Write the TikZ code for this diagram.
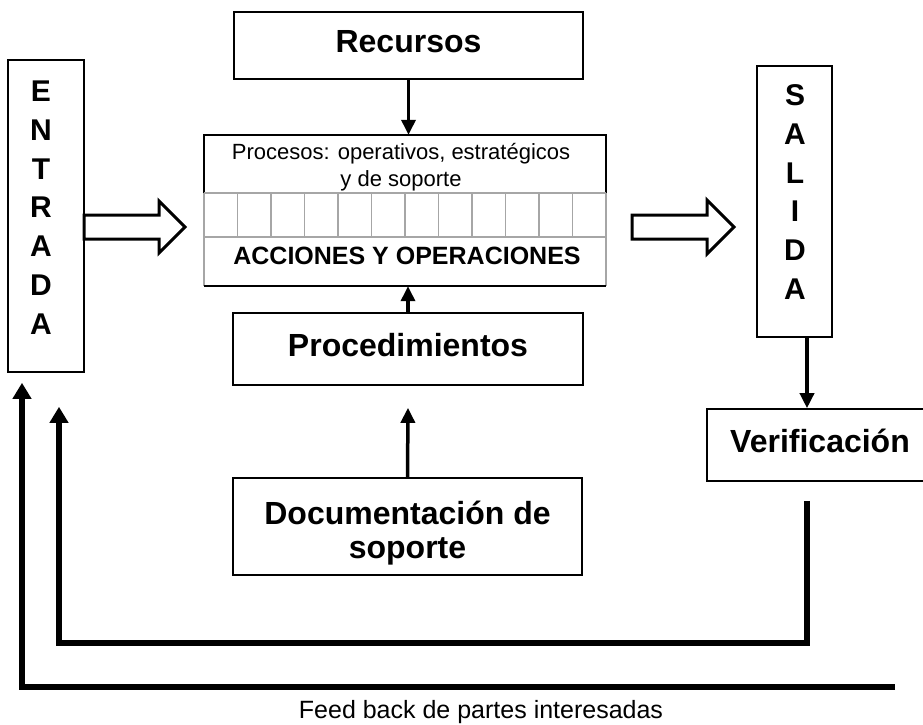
\documentclass[tikz,border=0pt]{standalone}
\usepackage{fontspec}
\setmainfont{Liberation Sans}
\usetikzlibrary{arrows.meta}

\begin{document}
\begin{tikzpicture}[
    x=1pt, y=-1pt,
    box/.style={draw, line width=1.6pt, inner sep=0pt},
    bigbold/.style={font=\fontsize{32}{34}\selectfont\bfseries},
    oneline/.style={text height=22pt, text depth=8pt},
    letters/.style={font=\fontsize{30}{38.8}\selectfont\bfseries, align=center, inner sep=0pt},
    thinarrow/.style={line width=3.5pt, -{Triangle[length=15pt,width=14pt]}},
    fbarrow/.style={line width=5.5pt, -{Triangle[length=16pt,width=18pt]}},
    hollow/.style={draw, line width=3pt, line join=miter}
]
\clip (0,0) rectangle (923,725);

% entrada y salida
\node[box, minimum width=76pt, minimum height=312pt] (entrada) at (46,216) {};
\node[letters] (entradatxt) at (41,207.5) {E\\N\\T\\R\\A\\D\\A};

\node[box, minimum width=75pt, minimum height=271pt] (salida) at (794.5,201.5) {};
\node[letters] (salidatxt) at (795,192) {S\\A\\L\\I\\D\\A};

% cajas centrales
\node[box, bigbold, oneline, minimum width=349pt, minimum height=67pt] (recursos) at (408.5,45.5) {Recursos};
\node[box, bigbold, oneline, minimum width=350pt, minimum height=72pt] (procd) at (408,349) {Procedimientos};
\node[box, minimum width=349pt, minimum height=97pt] (doc) at (407.5,526.5) {};
\node[bigbold, align=center, anchor=north, inner sep=0pt] (doctxt) at (407.5,501) {Documentaci\'on de\\soporte};
\node[box, bigbold, oneline, minimum width=226pt, minimum height=72pt] (verif) at (820,445) {Verificaci\'on};

% caja de procesos
\node[minimum width=402pt, minimum height=151pt, inner sep=0pt] (proc) at (405,210.5) {};
\coordinate (gridtop) at (405,193);
\coordinate (gridbot) at (405,237);
\draw[line width=1.6pt] (proc.west |- gridtop) -- (proc.north west) -- (proc.north east) -- (proc.east |- gridtop);
\draw[gray!70, line width=1.6pt] (proc.west |- gridtop) -- (proc.east |- gridtop)
    (proc.west |- gridbot) -- (proc.east |- gridbot)
    (proc.west |- gridtop) -- (proc.south west)
    (proc.east |- gridtop) -- (proc.south east);
\foreach \i in {1,...,11}
    \draw[gray!70, line width=1.6pt] (204+33.5*\i,193) -- (204+33.5*\i,237);
\draw[line width=1.6pt] (proc.south west) -- (proc.south east);
\node[font=\fontsize{22}{27}\selectfont, align=center, anchor=north, inner sep=0pt] (proctxt) at (401,143) {Procesos: operativos, estrat\'egicos\\y de soporte};
\node[font=\fontsize{25}{30}\selectfont\bfseries, anchor=base, inner sep=0pt] (acciones) at (407,264) {ACCIONES Y OPERACIONES};

% flechas huecas
\draw[hollow] (84,215) -- (159,215) -- (159,201) -- (185,227) -- (159,253) -- (159,239) -- (84,239) -- cycle;
\draw[hollow] (632,215) -- (707,215) -- (707,200) -- (734,227) -- (707,254) -- (707,239) -- (632,239) -- cycle;

% flechas
\draw[thinarrow] (recursos.south) -- (recursos.south |- proc.north);
\draw[thinarrow] (procd.north) -- (procd.north |- proc.south);
\draw[thinarrow] (doc.north) -- ([yshift=-22pt]procd.south);
\draw[thinarrow] ([xshift=12.5pt]salida.south) -- ([xshift=12.5pt]salida.south |- verif.north);

% retroalimentacion
\draw[fbarrow] ([xshift=-13pt,yshift=-19pt]verif.south) |- ([xshift=13pt,yshift=-270pt]entrada.south) -- ([xshift=13pt,yshift=-34pt]entrada.south);
\coordinate (fbstart) at (895,687);
\draw[fbarrow] (fbstart) -| ([xshift=-24pt,yshift=-10pt]entrada.south);
\node[font=\fontsize{25}{29}\selectfont, anchor=base] (fblabel) at (481,718) {Feed back de partes interesadas};

\end{tikzpicture}
\end{document}
